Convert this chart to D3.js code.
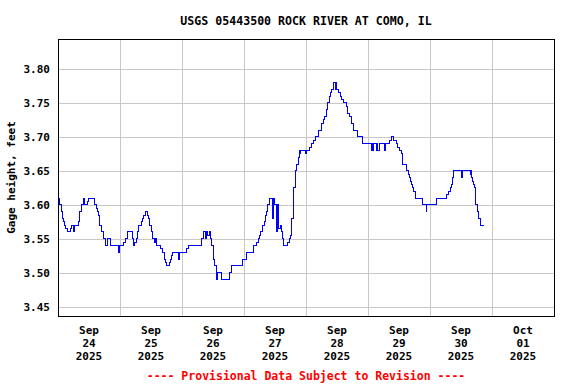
<!DOCTYPE html>
<html>
<head>
<meta charset="utf-8">
<script src="https://cdn.jsdelivr.net/npm/d3@7"></script>
<style>
    body { margin: 0; background: #fff; }
    svg { display: block; font-family: "DejaVu Sans Mono", "Liberation Mono", monospace; font-weight: bold; }
</style>
</head>
<body>
<svg width="576" height="384"></svg>
<script>
// --- Chart data ---
const title = "USGS 05443500 ROCK RIVER AT COMO, IL";
const yLabel = "Gage height, feet";
const footer = "---- Provisional Data Subject to Revision ----";
const startTime = new Date(2025, 8, 24); // Sep 24 2025, 00:00

// hours since start where the gage value changes, and the value from then on
const hours = [0, 0.5, 0.75, 1.25, 1.75, 2.25, 2.5, 3, 3.5, 5, 5.25, 6, 6.5, 7.75, 8.25, 8.5, 9, 9.75, 10.25, 11.25, 11.75,
    14, 14.25, 14.75, 15.25, 15.5, 16, 16.25, 16.75, 17, 17.75, 18.25, 18.5, 19.25, 20.5, 23.5, 23.75, 25.25, 26, 26.75,
    28.75, 29.25, 29.75, 30.25, 30.75, 31.25, 32.25, 32.75, 33.25, 33.75, 34.5, 35, 35.5, 36, 36.5, 37.5, 37.75, 38,
    39.75, 40.5, 41.25, 41.5, 42, 43.25, 43.5, 44, 44.5, 46.75, 47, 49.75, 50.5, 55.5, 56.25, 57.25, 57.5, 58, 58.5,
    59, 59.25, 59.5, 60, 60.75, 61.25, 61.5, 61.75, 63.25, 66.25, 67.25, 71.5, 73, 75.75, 76.75, 77.5, 78, 78.5, 79,
    79.75, 80.25, 80.75, 81.25, 82, 83, 83.25, 83.5, 83.75, 84.75, 85, 85.25, 86, 86.5, 86.75, 87, 87.25, 88.75, 89.75,
    90, 90.25, 91, 91.25, 92, 92.5, 93, 93.5, 93.75, 94, 95.75, 96.25, 97.5, 98, 98.75, 99.5, 100.75, 102, 102.75,
    103.25, 104, 104.5, 105, 105.5, 106, 106.5, 107.25, 107.5, 107.75, 108.5, 109.25, 109.75, 110.5, 111.5, 112, 113,
    113.75, 114.5, 115.75, 116, 117.75, 121.25, 121.5, 121.75, 122, 123.25, 123.5, 123.75, 124.5, 126.5, 126.75, 128.25,
    129, 130, 131, 131.5, 132.25, 133, 133.25, 133.5, 134.75, 135.5, 136.25, 136.5, 136.75, 137.25, 137.75, 138.5, 141,
    142.5, 142.75, 146.5, 150.5, 151, 151.75, 152.25, 152.75, 153.25, 156, 156.5, 159.5, 159.75, 160.25, 160.5, 160.75,
    161.25, 161.5, 161.75, 162.25, 162.75, 163.5, 165];
const gage = [3.61, 3.605, 3.60, 3.59, 3.58, 3.575, 3.57, 3.565, 3.56, 3.565, 3.57, 3.56, 3.57, 3.575, 3.58, 3.59, 3.60, 3.61, 3.60, 3.605, 3.61,
    3.605, 3.60, 3.595, 3.59, 3.585, 3.58, 3.57, 3.565, 3.56, 3.55, 3.545, 3.54, 3.55, 3.54, 3.53, 3.54, 3.545, 3.55, 3.56,
    3.55, 3.54, 3.545, 3.55, 3.56, 3.57, 3.575, 3.58, 3.585, 3.59, 3.585, 3.58, 3.57, 3.56, 3.55, 3.545, 3.55, 3.54,
    3.535, 3.53, 3.52, 3.515, 3.51, 3.515, 3.52, 3.525, 3.53, 3.52, 3.53, 3.535, 3.54, 3.55, 3.56, 3.55, 3.56, 3.555, 3.56,
    3.55, 3.545, 3.54, 3.52, 3.51, 3.50, 3.49, 3.50, 3.49, 3.50, 3.51, 3.52, 3.53, 3.54, 3.545, 3.55, 3.555, 3.56, 3.57,
    3.575, 3.585, 3.59, 3.60, 3.61, 3.58, 3.60, 3.61, 3.60, 3.56, 3.60, 3.565, 3.57, 3.56, 3.555, 3.55, 3.54, 3.545, 3.55,
    3.555, 3.58, 3.60, 3.625, 3.65, 3.66, 3.67, 3.68, 3.675, 3.68, 3.675, 3.68, 3.685, 3.69, 3.695, 3.70, 3.71, 3.72, 3.725,
    3.73, 3.74, 3.75, 3.76, 3.765, 3.77, 3.78, 3.77, 3.78, 3.77, 3.765, 3.76, 3.755, 3.75, 3.745, 3.735, 3.73,
    3.72, 3.71, 3.705, 3.70, 3.69, 3.68, 3.69, 3.68, 3.69, 3.68, 3.69, 3.68, 3.69, 3.68, 3.69, 3.695,
    3.70, 3.695, 3.69, 3.685, 3.68, 3.675, 3.67, 3.66, 3.65, 3.645, 3.64, 3.635, 3.63, 3.625, 3.62, 3.61, 3.60,
    3.59, 3.60, 3.61, 3.615, 3.62, 3.625, 3.63, 3.64, 3.65, 3.64, 3.65, 3.645, 3.65, 3.64, 3.635,
    3.63, 3.625, 3.62, 3.60, 3.59, 3.58, 3.57, 3.57];

const yTicks = [3.45, 3.50, 3.55, 3.60, 3.65, 3.70, 3.75, 3.80];
const dayMonth = ["Sep", "Sep", "Sep", "Sep", "Sep", "Sep", "Sep", "Oct"];
const dayNum = ["24", "25", "26", "27", "28", "29", "30", "01"];
const dayYear = ["2025", "2025", "2025", "2025", "2025", "2025", "2025", "2025"];

// --- Layout ---
const svg = d3.select("svg");
const W = +svg.attr("width");
const margin = { top: 39, right: 22, bottom: 68, left: 58 };
const width = W - margin.left - margin.right;
const height = +svg.attr("height") - margin.top - margin.bottom;

const points = hours.map((h, i) => ({ t: new Date(+startTime + h * 3600e3), v: gage[i] }));
const days = d3.range(dayNum.length + 1).map(i => d3.timeDay.offset(startTime, i));

const x = d3.scaleTime().domain([days[0], days[days.length - 1]]).range([0, width]);
const y = d3.scaleLinear().domain([3.4363, 3.8442]).range([height, 0]);

svg.append("text")
    .attr("x", margin.left + width / 2).attr("y", 25)
    .attr("text-anchor", "middle").attr("font-size", 11.6)
    .text(title);

const g = svg.append("g").attr("transform", `translate(${margin.left},${margin.top})`);

// gridlines
g.append("g")
    .call(d3.axisLeft(y).tickValues(yTicks).tickSize(-width).tickFormat(""))
    .call(a => a.select(".domain").remove())
    .call(a => a.selectAll("line").attr("stroke", "#c8c8c8").attr("shape-rendering", "crispEdges"));

g.append("g")
    .attr("transform", `translate(0,${height})`)
    .call(d3.axisBottom(x).tickValues(days.slice(1, -1)).tickSize(height).tickFormat(""))
    .call(a => a.select(".domain").remove())
    .call(a => a.selectAll("line").attr("stroke", "#c8c8c8").attr("y2", -height).attr("shape-rendering", "crispEdges"));

// y tick labels
g.selectAll(".ylab")
    .data(yTicks)
    .enter().append("text")
    .attr("class", "ylab")
    .attr("x", -8).attr("y", d => y(d)).attr("dy", "0.36em")
    .attr("text-anchor", "end").attr("font-size", 11)
    .text(d => d.toFixed(2));

// x labels at noon of each day
const xlab = g.selectAll(".xlab")
    .data(dayNum.map((d, i) => i))
    .enter().append("text")
    .attr("class", "xlab")
    .attr("text-anchor", "middle").attr("font-size", 11);
[dayMonth, dayNum, dayYear].forEach((arr, row) => {
    xlab.append("tspan")
        .attr("x", i => x(d3.timeHour.offset(days[i], 12)))
        .attr("y", height + 18 + row * 13)
        .text(i => arr[i]);
});

// data line
g.append("path")
    .datum(points)
    .attr("fill", "none")
    .attr("stroke", "#0000ff")
    .attr("stroke-width", 1)
    .attr("shape-rendering", "crispEdges")
    .attr("d", d3.line().x(d => x(d.t)).y(d => y(d.v)).curve(d3.curveStepAfter));

// frame
g.append("rect")
    .attr("x", 0.5).attr("y", 0.5).attr("width", width).attr("height", height)
    .attr("fill", "none").attr("stroke", "#000").attr("shape-rendering", "crispEdges");

svg.append("text")
    .attr("transform", `translate(15,${margin.top + height / 2}) rotate(-90)`)
    .attr("text-anchor", "middle").attr("font-size", 11)
    .text(yLabel);

svg.append("text")
    .attr("x", margin.left + width / 2).attr("y", 380)
    .attr("text-anchor", "middle").attr("font-size", 11.5).attr("fill", "#ff0000")
    .text(footer);
</script>
</body>
</html>
